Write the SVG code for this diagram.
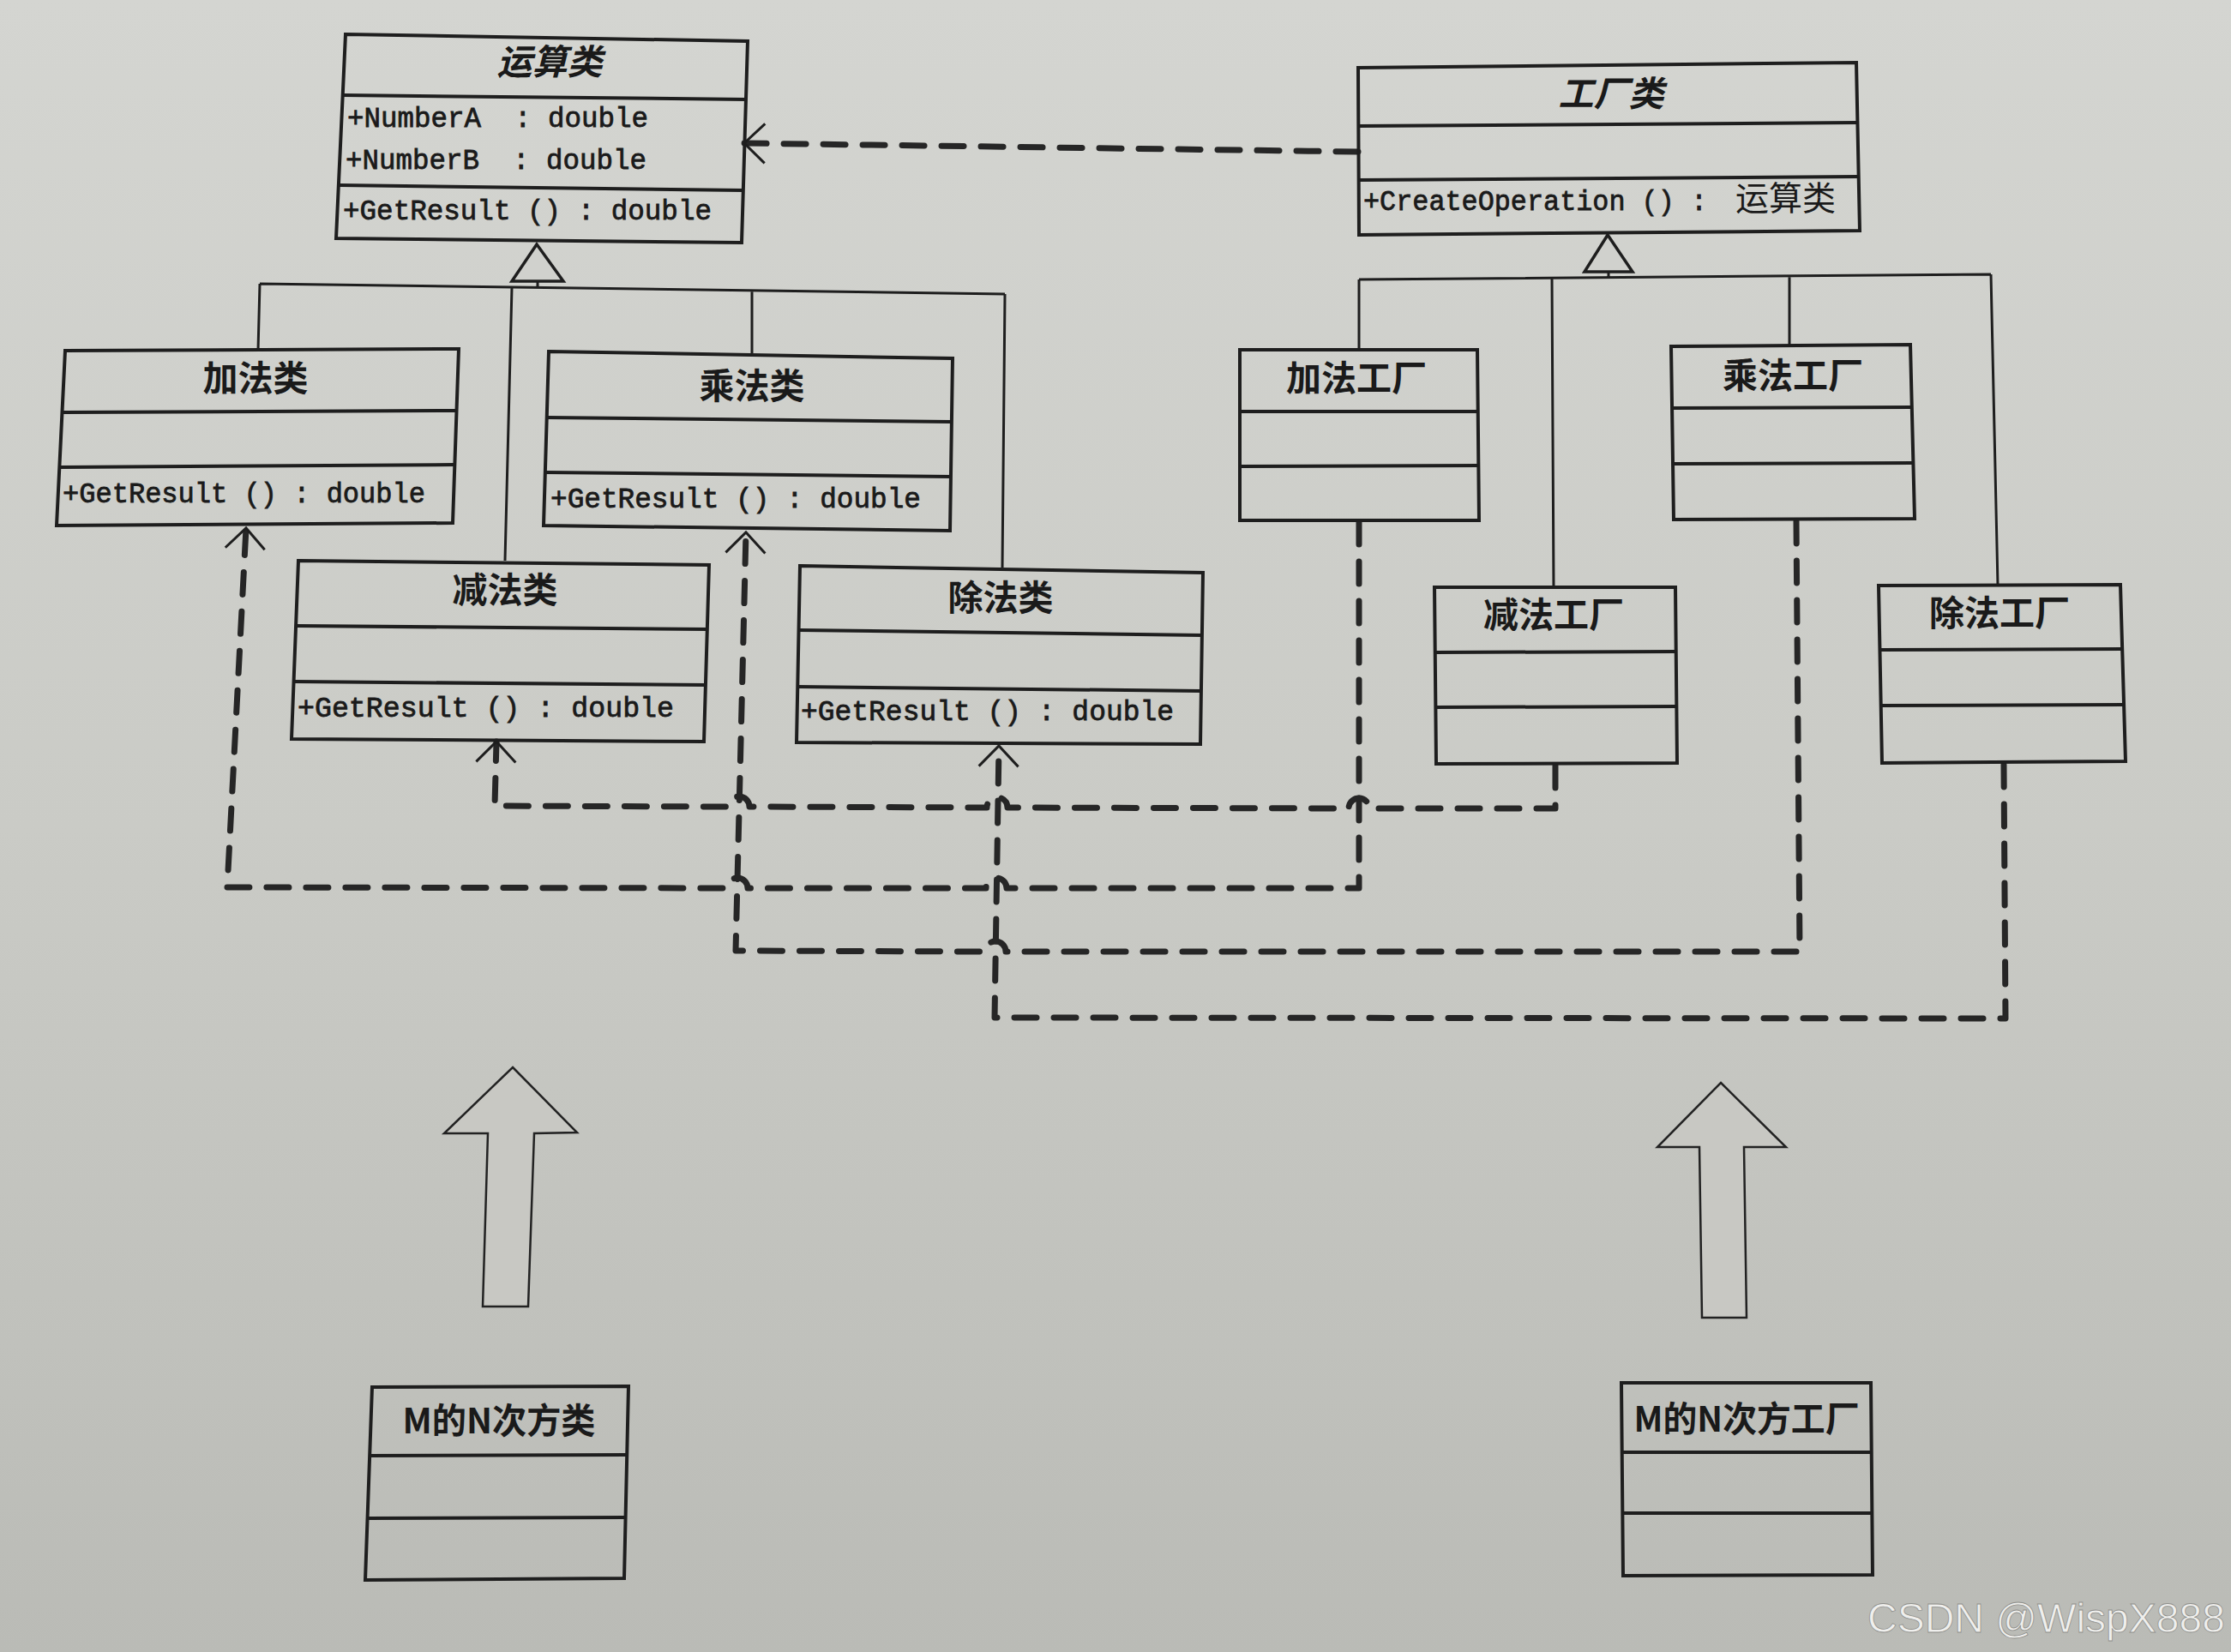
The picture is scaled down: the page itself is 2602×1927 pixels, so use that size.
<svg xmlns="http://www.w3.org/2000/svg" width="2602" height="1927" viewBox="0 0 2602 1927">
<defs>
<linearGradient id="paper" x1="0" y1="0" x2="0" y2="1">
<stop offset="0" stop-color="#d4d5d1"/>
<stop offset="0.5" stop-color="#cacbc6"/>
<stop offset="1" stop-color="#babbb6"/>
</linearGradient>
<marker id="open" markerUnits="userSpaceOnUse" markerWidth="60" markerHeight="60" viewBox="-30 -30 60 60" refX="0" refY="0" orient="auto" overflow="visible">
<path d="M -24 -23 L 0 0 L -24 23" fill="none" stroke="#1e1e1e" stroke-width="3" stroke-dasharray="none"/>
</marker>
<style>
.box{fill:none;stroke:#1e1e1e;stroke-width:4;stroke-linejoin:miter}
.div{stroke:#1e1e1e;stroke-width:4}
.tree{fill:none;stroke:#1e1e1e;stroke-width:3}
.tri{fill:#d0d1cd;stroke:#1e1e1e;stroke-width:3.5;stroke-linejoin:miter}
.dash{fill:none;stroke:#262626;stroke-width:7;stroke-dasharray:26 20;stroke-linecap:round;stroke-linejoin:round}
.ttl{font-family:"Noto Sans CJK SC","Noto Sans",sans-serif;font-weight:700;font-size:41px;fill:#1a1a1a;text-anchor:middle}
.abs{font-style:italic}
.mem{font-family:"Liberation Mono","DejaVu Sans Mono",monospace;font-size:34px;fill:#1a1a1a;stroke:#1a1a1a;stroke-width:0.8}
.cjk{font-family:"Noto Sans CJK SC",sans-serif;font-size:39px;fill:#1a1a1a}
.big{fill:#c8c8c3;stroke:#222;stroke-width:2.5;stroke-linejoin:miter}
</style>
</defs>
<rect x="0" y="0" width="2602" height="1927" fill="url(#paper)"/>

<g id="connectors">
<path class="tree" d="M303,331 L1172,343 M627,328 L627,336 M303,331 L301,409 M597,335 L589,654 M877,339 L877,412 M1172,343 L1169,662"/>
<polygon class="tri" points="626,285 597,328 657,328"/>
<path class="tree" d="M1585,326 L2322,320 M1876,317 L1876,324 M1585,326 L1585,408 M1810,324 L1812,685 M2087,322 L2087,404 M2322,320 L2330,683"/>
<polygon class="tri" points="1875,274 1848,317 1904,317"/>
<path class="dash" d="M1584,177 L868,167" marker-end="url(#open)"/>
<path class="dash" d="M1585,609 L1585,1036 L1174,1036 A12,12 0 0 0 1150,1036 L872,1036 A12,12 0 0 0 848,1036 L265,1035 L287,616" marker-end="url(#open)"/>
<path class="dash" d="M1814,893 L1814,943 L1597,943 A12,12 0 0 0 1573,943 L1175,942 A12,12 0 0 0 1151,942 L874,941 A12,12 0 0 0 850,941 L577,940 L579,865" marker-end="url(#open)"/>
<path class="dash" d="M2095,608 L2099,1110 L1173,1110 A12,12 0 0 0 1149,1110 L858,1109 L870,621" marker-end="url(#open)"/>
<path class="dash" d="M2337,892 L2339,1188 L1160,1187 L1165,870" marker-end="url(#open)"/>
</g>

<g id="op-class">
<polygon class="box" points="403,40 872,48 865,283 392,278"/>
<line class="div" x1="400" y1="111" x2="870" y2="116"/>
<line class="div" x1="396" y1="216" x2="867" y2="222"/>
<text class="ttl abs" x="641" y="87">运算类</text>
<text class="mem" x="405" y="148" xml:space="preserve" textLength="351" lengthAdjust="spacingAndGlyphs">+NumberA  : double</text>
<text class="mem" x="403" y="197" xml:space="preserve" textLength="351" lengthAdjust="spacingAndGlyphs">+NumberB  : double</text>
<text class="mem" x="400" y="256" xml:space="preserve" textLength="430" lengthAdjust="spacingAndGlyphs">+GetResult () : double</text>
</g>

<g id="add-class">
<polygon class="box" points="76,409 535,407 528,610 66,613"/>
<line class="div" x1="74" y1="481" x2="533" y2="479"/>
<line class="div" x1="71" y1="545" x2="531" y2="542"/>
<text class="ttl" x="298" y="456">加法类</text>
<text class="mem" x="73" y="586" xml:space="preserve" textLength="423" lengthAdjust="spacingAndGlyphs">+GetResult () : double</text>
</g>

<g id="mul-class">
<polygon class="box" points="640,410 1111,418 1108,619 634,613"/>
<line class="div" x1="638" y1="487" x2="1110" y2="492"/>
<line class="div" x1="636" y1="551" x2="1109" y2="556"/>
<text class="ttl" x="877" y="465">乘法类</text>
<text class="mem" x="642" y="592" xml:space="preserve" textLength="432" lengthAdjust="spacingAndGlyphs">+GetResult () : double</text>
</g>

<g id="sub-class">
<polygon class="box" points="348,654 827,659 821,865 340,862"/>
<line class="div" x1="345" y1="730" x2="825" y2="734"/>
<line class="div" x1="343" y1="795" x2="823" y2="799"/>
<text class="ttl" x="589" y="703">减法类</text>
<text class="mem" x="347" y="836" xml:space="preserve" textLength="439" lengthAdjust="spacingAndGlyphs">+GetResult () : double</text>
</g>

<g id="div-class">
<polygon class="box" points="933,660 1403,668 1400,868 929,866"/>
<line class="div" x1="932" y1="735" x2="1402" y2="741"/>
<line class="div" x1="930" y1="801" x2="1401" y2="806"/>
<text class="ttl" x="1167" y="712">除法类</text>
<text class="mem" x="934" y="840" xml:space="preserve" textLength="435" lengthAdjust="spacingAndGlyphs">+GetResult () : double</text>
</g>

<g id="factory-class">
<polygon class="box" points="1584,79 2165,73 2169,269 1585,274"/>
<line class="div" x1="1584" y1="147" x2="2166" y2="143"/>
<line class="div" x1="1585" y1="210" x2="2167" y2="206"/>
<text class="ttl abs" x="1879" y="124">工厂类</text>
<text class="mem" x="1590" y="245" xml:space="preserve" textLength="401" lengthAdjust="spacingAndGlyphs">+CreateOperation () :</text>
<text class="cjk" x="2024" y="245">运算类</text>
</g>

<g id="add-factory">
<polygon class="box" points="1446,408 1723,408 1725,607 1446,607"/>
<line class="div" x1="1446" y1="480" x2="1724" y2="480"/>
<line class="div" x1="1446" y1="544" x2="1725" y2="543"/>
<text class="ttl" x="1582" y="456">加法工厂</text>
</g>

<g id="mul-factory">
<polygon class="box" points="1949,404 2228,402 2233,605 1952,606"/>
<line class="div" x1="1950" y1="476" x2="2230" y2="475"/>
<line class="div" x1="1951" y1="541" x2="2231" y2="540"/>
<text class="ttl" x="2091" y="453">乘法工厂</text>
</g>

<g id="sub-factory">
<polygon class="box" points="1673,685 1954,685 1956,890 1675,891"/>
<line class="div" x1="1674" y1="761" x2="1955" y2="760"/>
<line class="div" x1="1674" y1="825" x2="1956" y2="824"/>
<text class="ttl" x="1812" y="732">减法工厂</text>
</g>

<g id="div-factory">
<polygon class="box" points="2191,683 2473,682 2479,888 2195,890"/>
<line class="div" x1="2193" y1="758" x2="2476" y2="757"/>
<line class="div" x1="2194" y1="823" x2="2477" y2="822"/>
<text class="ttl" x="2332" y="730">除法工厂</text>
</g>

<g id="extension-arrows">
<polygon class="big" points="598,1245 673,1321 623,1322 616,1524 563,1524 569,1322 518,1322"/>
<polygon class="big" points="2007,1263 2083,1338 2034,1338 2037,1537 1985,1537 1982,1338 1933,1338"/>
</g>

<g id="pow-class">
<polygon class="box" points="434,1618 733,1617 728,1841 426,1843"/>
<line class="div" x1="431" y1="1698" x2="731" y2="1697"/>
<line class="div" x1="429" y1="1771" x2="730" y2="1770"/>
<text class="ttl" x="582" y="1672" textLength="225" lengthAdjust="spacingAndGlyphs">M的N次方类</text>
</g>

<g id="pow-factory">
<polygon class="box" points="1891,1613 2182,1613 2184,1837 1893,1838"/>
<line class="div" x1="1892" y1="1694" x2="2183" y2="1694"/>
<line class="div" x1="1892" y1="1765" x2="2184" y2="1765"/>
<text class="ttl" x="2037" y="1670" textLength="263" lengthAdjust="spacingAndGlyphs">M的N次方工厂</text>
</g>

<text x="2178" y="1904" font-family="Liberation Sans, Arial, sans-serif" font-size="48" fill="#efefed" stroke="#8f8f8b" stroke-width="0.8">CSDN @WispX888</text>
</svg>
